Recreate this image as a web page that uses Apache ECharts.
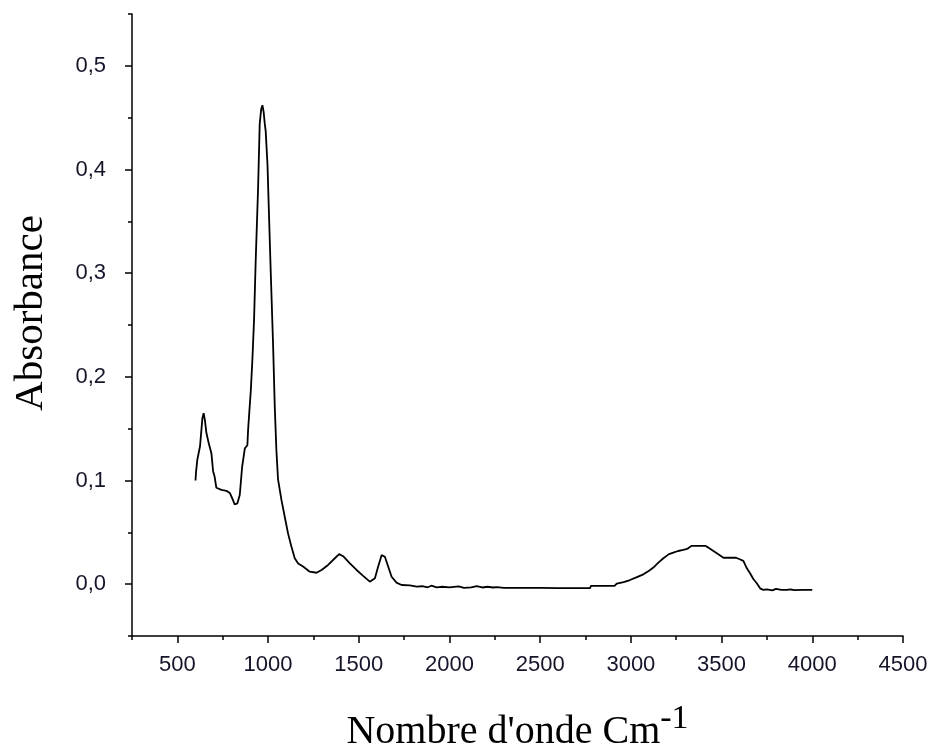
<!DOCTYPE html>
<html>
<head>
<meta charset="utf-8">
<script src="https://cdn.jsdelivr.net/npm/echarts@6/dist/echarts.min.js"></script>
<style>
html,body{margin:0;padding:0;background:#fff;}
#chart{width:933px;height:751px;}
</style>
</head>
<body>
<div id="chart"></div>
<script>
// Wavenumber (cm-1) and absorbance
var wavenumber = [600,603,610,625,638,645,652,660,673,688,697,705,715,743,771,789,802,816,831,844,857,872,886,890,899,905,914,923,932,945,954,962,969,976,982,987,997,1004,1015,1028,1037,1046,1055,1074,1092,1110,1129,1147,1166,1193,1230,1267,1295,1331,1368,1392,1414,1451,1488,1524,1561,1589,1607,1626,1644,1662,1681,1708,1736,1782,1819,1850,1880,1900,1930,1960,2000,2050,2080,2120,2150,2180,2210,2240,2260,2300,2400,2500,2600,2700,2775,2780,2910,2922,2960,2995,3030,3069,3100,3124,3150,3179,3210,3234,3260,3289,3310,3335,3370,3410,3430,3455,3480,3510,3545,3580,3600,3620,3640,3657,3675,3694,3712,3730,3749,3780,3800,3830,3860,3880,3900,3950,4000];
var absorbance = [0.100,0.108,0.120,0.133,0.160,0.165,0.158,0.146,0.136,0.126,0.109,0.104,0.093,0.091,0.090,0.088,0.083,0.077,0.078,0.086,0.113,0.131,0.134,0.149,0.172,0.187,0.218,0.256,0.313,0.382,0.444,0.458,0.462,0.455,0.444,0.437,0.404,0.363,0.300,0.229,0.171,0.129,0.101,0.081,0.065,0.049,0.036,0.025,0.020,0.017,0.012,0.011,0.0137,0.0185,0.025,0.029,0.027,0.020,0.0137,0.008,0.0024,0.0057,0.017,0.028,0.0265,0.017,0.0072,0.0015,-0.0008,-0.0012,-0.0024,-0.002,-0.003,-0.0015,-0.003,-0.0025,-0.003,-0.0022,-0.0035,-0.003,-0.0018,-0.0032,-0.0025,-0.0032,-0.0028,-0.0035,-0.0035,-0.0035,-0.0038,-0.0038,-0.0038,-0.0017,-0.0017,0.0005,0.002,0.004,0.0065,0.0095,0.013,0.016,0.0205,0.025,0.029,0.0305,0.032,0.033,0.034,0.037,0.037,0.037,0.035,0.032,0.029,0.0255,0.0255,0.0255,0.024,0.0225,0.015,0.0105,0.005,0.0009,-0.004,-0.0055,-0.005,-0.006,-0.0045,-0.0055,-0.0055,-0.005,-0.0058,-0.0055,-0.0056];

var xMajorTicks = [500,1000,1500,2000,2500,3000,3500,4000,4500];
var xMinorTicks = [250,750,1250,1750,2250,2750,3250,3750,4250];
var yMajorTicks = [0,0.1,0.2,0.3,0.4,0.5];
var yMinorTicks = [-0.05,0.05,0.15,0.25,0.35,0.45,0.55];

var xTitle = "Nombre d'onde Cm";
var xTitleSup = "-1";
var yTitle = "Absorbance";

var seriesData = wavenumber.map(function (w, i) { return [w, absorbance[i]]; });

var chart = echarts.init(document.getElementById('chart'), null, {renderer: 'canvas'});
var labelFont = {fontFamily: 'Liberation Sans, Arial, sans-serif', fontSize: 22, color: '#15152a'};
var axisLineStyle = {color: '#000', width: 1.5};
var serif = 'Liberation Serif, Times New Roman, serif';

chart.setOption({
  backgroundColor: '#fff',
  animation: false,
  grid: {left: 132, right: 30, top: 14, bottom: 115, containLabel: false, outerBoundsMode: 'none'},
  xAxis: [{
    type: 'value', min: 250, max: 4500, position: 'bottom',
    axisLine: {show: true, onZero: false, lineStyle: axisLineStyle},
    axisTick: {show: true, inside: false, length: 7, lineStyle: axisLineStyle, customValues: xMajorTicks},
    axisLabel: Object.assign({show: true, margin: 18, customValues: xMajorTicks,
      formatter: function (v) { return String(v); }}, labelFont),
    splitLine: {show: false},
    name: '{a|' + xTitle + '}{b|' + xTitleSup + '}',
    nameLocation: 'middle', nameGap: 66,
    nameTextStyle: {
      rich: {
        a: {fontFamily: serif, fontSize: 40, color: '#000', lineHeight: 50, verticalAlign: 'bottom'},
        b: {fontFamily: serif, fontSize: 34, color: '#000', lineHeight: 32, verticalAlign: 'top'}
      }
    }
  }, {
    type: 'value', min: 250, max: 4500, position: 'bottom',
    axisLine: {show: false, onZero: false},
    axisTick: {show: true, inside: false, length: 4, lineStyle: axisLineStyle, customValues: xMinorTicks},
    axisLabel: {show: false},
    splitLine: {show: false}
  }],
  yAxis: [{
    type: 'value', min: -0.05, max: 0.55, position: 'left',
    axisLine: {show: true, onZero: false, lineStyle: axisLineStyle},
    axisTick: {show: true, inside: false, length: 7, lineStyle: axisLineStyle, customValues: yMajorTicks},
    axisLabel: Object.assign({show: true, margin: 26, customValues: yMajorTicks,
      formatter: function (v) { return v.toFixed(1).replace('.', ','); }}, labelFont),
    splitLine: {show: false},
    name: yTitle, nameLocation: 'middle', nameGap: 80,
    nameTextStyle: {fontFamily: serif, fontSize: 41, color: '#000', padding: [0, 0, 0, 24]}
  }, {
    type: 'value', min: -0.05, max: 0.55, position: 'left',
    axisLine: {show: false, onZero: false},
    axisTick: {show: true, inside: false, length: 4, lineStyle: axisLineStyle, customValues: yMinorTicks},
    axisLabel: {show: false},
    splitLine: {show: false}
  }],
  series: [{
    type: 'line', xAxisIndex: 0, yAxisIndex: 0,
    data: seriesData, showSymbol: false, symbol: 'none', smooth: false,
    lineStyle: {color: '#000', width: 1.8}
  }]
});
</script>
</body>
</html>
